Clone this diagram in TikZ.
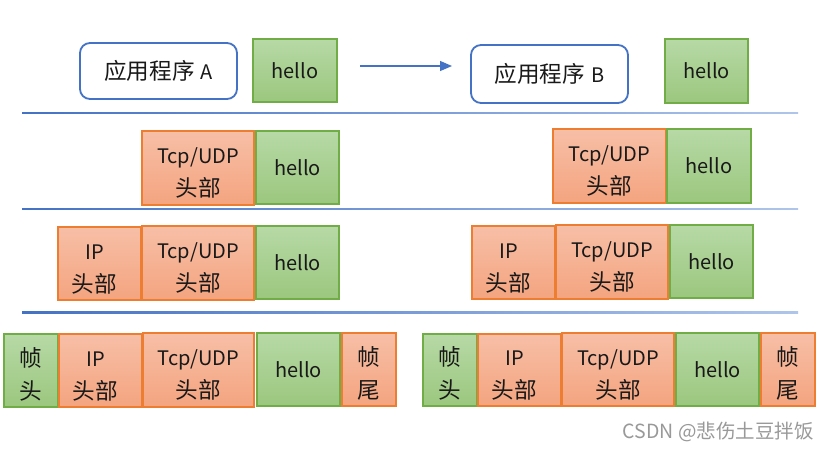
\documentclass[tikz,border=0pt]{standalone}
\usepackage{fontspec}
\setmainfont{Noto Sans CJK SC}
\newfontfamily\cjkfam[Scale=1.13]{Noto Sans CJK SC}
\usetikzlibrary{arrows.meta}
\definecolor{gtop}{HTML}{B7D9A6}
\definecolor{gbot}{HTML}{9BC77E}
\definecolor{gline}{HTML}{70AD47}
\definecolor{otop}{HTML}{F7BFA7}
\definecolor{obot}{HTML}{F4A47F}
\definecolor{oline}{HTML}{ED7D31}
\definecolor{bline}{HTML}{4472C4}
\definecolor{blight}{HTML}{AFC5EA}
\tikzset{
  base/.style={font={\fontsize{20}{33}\selectfont}, align=center, inner sep=0pt, line width=1.2pt, text=black!90},
  gbox/.style={base, draw=gline, top color=gtop, bottom color=gbot},
  obox/.style={base, draw=oline, top color=otop, bottom color=obot},
  appbox/.style={base, draw=bline, line width=1.8pt, rounded corners=10pt, fill=white},
  sz/.style 2 args={minimum width=#1pt, minimum height=#2pt},
}
\newcommand{\ipshift}{\makebox[10pt]{}}
\newcommand{\cj}[1]{{\cjkfam #1}}
\newcommand{\ts}{\rule{0pt}{26pt}}
\begin{document}
\begin{tikzpicture}[x=1pt,y=-1pt]
\useasboundingbox (0,0) rectangle (829,451);
\fill[white] (0,0) rectangle (829,451);
% separator lines
\shade[left color=bline, right color=blight] (22,112.3) rectangle (798,113.9);
\shade[left color=bline, right color=blight] (22,208.3) rectangle (798,209.9);
\shade[left color=bline, right color=blight] (22,311.8) rectangle (798,313.4);
% row 1
\node[appbox, sz={157}{56}] (appA) at (158.5,71) {\cj{应用程序}\hspace{6pt}A};
\node[gbox, sz={84}{63}] (hA1) at (295,70.5) {hello};
\node[appbox, sz={157}{58}] (appB) at (549.5,74) {\cj{应用程序}\hspace{6pt}B};
\node[gbox, sz={83}{64}] (hB1) at (706.5,71) {hello};
\coordinate (arrS) at (360,66);
\coordinate (arrE) at (452,66);
\draw[bline, line width=1.2pt, -{Triangle[length=12pt,width=10pt]}] (arrS) -- (arrE);
% row 2
\node[obox, sz={112}{74}] (tA2) at (198,168) {\ts Tcp/UDP\\\cj{头部}};
\node[gbox, sz={83}{73}] (hA2) at (297.5,167.5) {hello};
\node[obox, sz={113}{74}] (tB2) at (609.5,166) {\ts Tcp/UDP\\\cj{头部}};
\node[gbox, sz={84}{74}] (hB2) at (709,166) {hello};
% row 3
\node[obox, sz={83}{73}] (iA3) at (99.5,263.5) {\ts IP\ipshift\\\cj{头部}\ipshift};
\node[obox, sz={112}{74}] (tA3) at (198,263) {\ts Tcp/UDP\\\cj{头部}};
\node[gbox, sz={83}{73}] (hA3) at (297.5,262.5) {hello};
\node[obox, sz={83}{73}] (iB3) at (513.5,262.5) {\ts IP\ipshift\\\cj{头部}\ipshift};
\node[obox, sz={112}{74}] (tB3) at (612,262) {\ts Tcp/UDP\\\cj{头部}};
\node[gbox, sz={83}{73}] (hB3) at (711.5,261.5) {hello};
% row 4
\node[gbox, sz={54}{73}] (fhA) at (31,370.5) {\ts\cj{帧}\\\cj{头}};
\node[obox, sz={83}{73}] (iA4) at (100.5,370.5) {\ts IP\ipshift\\\cj{头部}\ipshift};
\node[obox, sz={111}{74}] (tA4) at (198.5,370) {\ts Tcp/UDP\\\cj{头部}};
\node[gbox, sz={83}{73}] (hA4) at (298.5,369.5) {hello};
\node[obox, sz={54}{73}] (ftA) at (369,369.5) {\ts\cj{帧}\\\cj{尾}};
\node[gbox, sz={54}{72}] (fhB) at (450,370) {\ts\cj{帧}\\\cj{头}};
\node[obox, sz={83}{72}] (iB4) at (519.5,370) {\ts IP\ipshift\\\cj{头部}\ipshift};
\node[obox, sz={112}{73}] (tB4) at (618,369.5) {\ts Tcp/UDP\\\cj{头部}};
\node[gbox, sz={83}{73}] (hB4) at (717.5,369.5) {hello};
\node[obox, sz={54}{73}] (ftB) at (788,369.5) {\ts\cj{帧}\\\cj{尾}};
% watermark
\node[anchor=east, inner sep=0pt, text=black!40, font={\fontsize{19.5}{22}\selectfont}] (wm) at (814,432) {CSDN @悲伤土豆拌饭};
\end{tikzpicture}
\end{document}
